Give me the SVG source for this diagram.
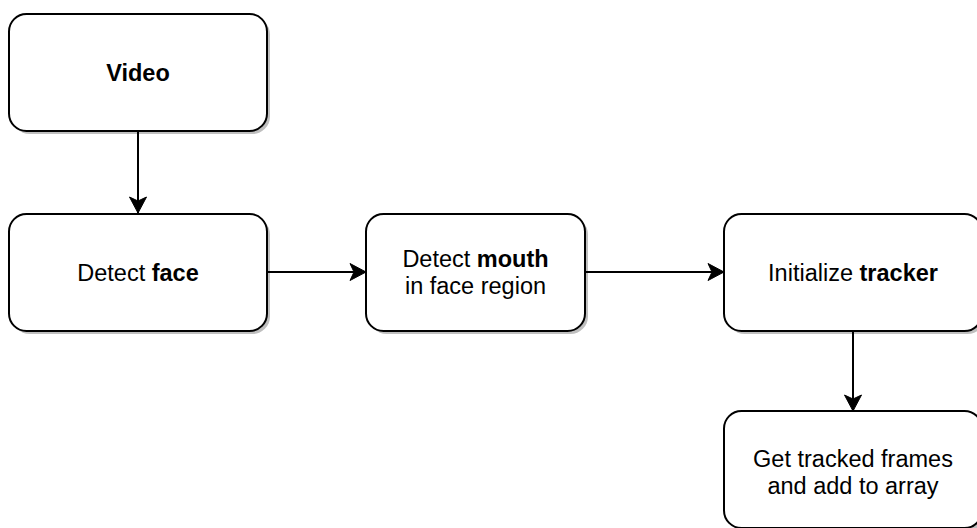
<svg xmlns="http://www.w3.org/2000/svg" width="977" height="528" viewBox="0 0 977 528">
<style>
.box{fill:#ffffff;stroke:#000000;stroke-width:2}
.shadow{fill:#000000;fill-opacity:0.25}
.t{font-family:"Liberation Sans",Helvetica,Arial,sans-serif;font-size:23.5px;fill:#000000;text-anchor:middle}
.b{font-weight:bold}
.edge{stroke:#000000;stroke-width:2;fill:none}
</style>
<defs>
<marker id="arr" viewBox="-17 -10 18 20" refX="0" refY="0" markerWidth="18" markerHeight="20" markerUnits="userSpaceOnUse" orient="auto">
<path d="M0,0 L-16,-8.5 L-12,0 L-16,8.5 Z" fill="#000000" stroke="#000000" stroke-width="1"/>
</marker>
</defs>
<rect width="977" height="528" fill="#ffffff"/>
<g id="connectors">
<line class="edge" x1="138" y1="131" x2="138" y2="213" marker-end="url(#arr)"/>
<line class="edge" x1="267" y1="272" x2="366" y2="272" marker-end="url(#arr)"/>
<line class="edge" x1="585" y1="272" x2="724" y2="272" marker-end="url(#arr)"/>
<line class="edge" x1="853" y1="331" x2="853" y2="411" marker-end="url(#arr)"/>
</g>
<g id="video">
<rect class="shadow" x="12" y="17" width="258" height="117" rx="17.5"/>
<rect class="box" x="9" y="14" width="258" height="117" rx="17.5"/>
<text class="t b" x="138" y="80.5">Video</text>
</g>
<g id="face">
<rect class="shadow" x="12" y="217" width="258" height="117" rx="17.5"/>
<rect class="box" x="9" y="214" width="258" height="117" rx="17.5"/>
<text class="t" x="138" y="280.5">Detect <tspan class="b">face</tspan></text>
</g>
<g id="mouth">
<rect class="shadow" x="369" y="217" width="219" height="117" rx="17.5"/>
<rect class="box" x="366" y="214" width="219" height="117" rx="17.5"/>
<text class="t" x="475.5" y="266.5">Detect <tspan class="b">mouth</tspan></text>
<text class="t" x="475.5" y="293.5">in face region</text>
</g>
<g id="tracker">
<rect class="shadow" x="727" y="217" width="258" height="117" rx="17.5"/>
<rect class="box" x="724" y="214" width="258" height="117" rx="17.5"/>
<text class="t" x="853" y="280.5">Initialize <tspan class="b">tracker</tspan></text>
</g>
<g id="frames">
<rect class="shadow" x="727" y="414" width="258" height="117" rx="17.5"/>
<rect class="box" x="724" y="411" width="258" height="117" rx="17.5"/>
<text class="t" x="853" y="466.5">Get tracked frames</text>
<text class="t" x="853" y="493.5">and add to array</text>
</g>
</svg>
